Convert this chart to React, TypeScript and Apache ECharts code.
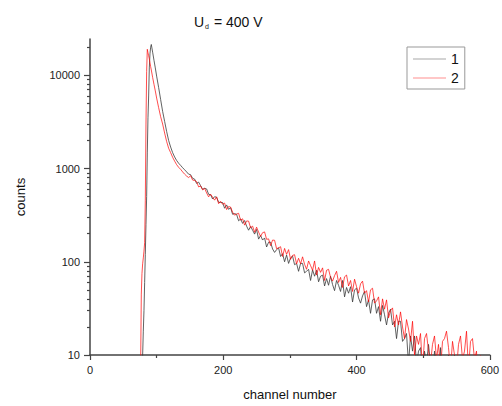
import React, { useEffect, useRef } from "react";
import * as echarts from "echarts";

const peakChannels = [74, 76, 77, 78, 79, 80, 81, 82, 83, 84, 85, 86, 87, 88, 89, 90, 91, 92, 94, 96, 98, 100, 103, 106, 109, 112, 115, 118, 121, 124, 127, 130, 133, 136, 139, 142, 145, 148];
const tailChannels = [
  151, 154, 157, 160, 163, 166, 169, 172, 175, 178,
  181, 184, 187, 190, 193, 196, 199, 202, 205, 208,
  211, 214, 217, 220, 223, 226, 229, 232, 235, 238,
  241, 244, 247, 250, 253, 256, 259, 262, 265, 268,
  271, 274, 277, 280, 283, 286, 289, 292, 295, 298,
  301, 304, 307, 310, 313, 316, 319, 322, 325, 328,
  331, 334, 337, 340, 343, 346, 349, 352, 355, 358,
  361, 364, 367, 370, 373, 376, 379, 382, 385, 388,
  391, 394, 397, 400, 403, 406, 409, 412, 415, 418,
  421, 424, 427, 430, 433, 436, 439, 442, 445, 448,
  451, 454, 457, 460, 463, 466, 469, 472, 475, 478,
  481, 484, 487, 490, 493, 496, 499, 502, 505, 508,
  511, 514, 517, 520, 523, 526, 529, 532, 535, 538,
  541, 544, 547, 550, 553, 556, 559, 562, 565, 568,
  571, 574, 577, 580, 583, 586, 589,
];

const series1Peak = [1, 1, 2, 5, 10, 18, 30, 60, 120, 250, 500, 1500, 3500, 6000, 12000, 17000, 20000, 21400, 17700, 14500, 12000, 9800, 7400, 5500, 4100, 3200, 2500, 2000, 1700, 1480, 1330, 1220, 1140, 1080, 1020, 970, 920, 870];
const series1Tail = [
  859, 785, 770, 692, 715, 654, 598, 613, 604, 529,
  523, 471, 499, 491, 434, 432, 432, 375, 407, 365,
  380, 323, 329, 322, 275, 288, 258, 277, 241, 218,
  239, 218, 198, 222, 175, 191, 171, 180, 144, 162,
  162, 137, 126, 135, 141, 114, 122, 100, 118, 96,
  110, 115, 93, 96, 79, 96, 96, 76, 79, 83,
  63, 82, 70, 81, 61, 70, 72, 55, 66, 56,
  70, 57, 49, 63, 56, 48, 63, 42, 53, 46,
  54, 37, 50, 52, 41, 36, 43, 48, 33, 39,
  28, 39, 40, 28, 33, 23, 34, 27, 21, 28,
  31, 21, 23, 15, 23, 23, 14, 15, 17, 8,
  16, 11, 16, 8, 11, 12, 6, 11, 8, 13,
  8, 5, 11, 8, 6, 12, 4, 9, 6, 10,
  3, 8, 10, 5, 4, 7,
];

const series2Peak = [1, 8, 45, 75, 95, 110, 130, 160, 450, 3000, 11000, 19000, 17500, 16200, 15000, 13600, 12400, 11400, 9500, 8000, 6800, 5700, 4500, 3600, 3000, 2400, 1950, 1650, 1480, 1320, 1200, 1100, 1030, 980, 920, 870, 830, 800];
const series2Tail = [
  837, 752, 744, 723, 635, 650, 590, 614, 547, 497,
  530, 493, 458, 497, 420, 445, 414, 426, 363, 391,
  386, 340, 316, 325, 331, 279, 289, 247, 274, 273,
  231, 241, 207, 235, 208, 187, 205, 209, 174, 176,
  149, 171, 170, 138, 141, 145, 114, 139, 120, 135,
  106, 117, 119, 95, 109, 95, 113, 94, 83, 102,
  91, 81, 102, 72, 87, 77, 86, 63, 81, 83,
  68, 62, 71, 79, 60, 68, 53, 69, 72, 55,
  63, 48, 65, 54, 46, 58, 62, 46, 49, 37,
  50, 52, 36, 38, 42, 27, 40, 31, 39, 25,
  30, 32, 20, 27, 21, 29, 20, 15, 24, 19,
  14, 23, 10, 16, 13, 17, 7, 15, 17, 11,
  8, 13, 16, 9, 13, 7, 14, 15, 18, 12,
  7, 14, 10, 7, 13, 16, 9, 11, 18, 7,
  14, 15, 9, 11, 4, 10, 4,
];

const seriesNames = ["1", "2"];
const yMajorTicks = [10, 100, 1000, 10000];
const yMinorTicks = [20, 30, 40, 50, 60, 70, 80, 90, 200, 300, 400, 500, 600, 700, 800, 900, 2000, 3000, 4000, 5000, 6000, 7000, 8000, 9000, 20000];

function pairs(xs: number[], ys: number[]) {
  const out: number[][] = [];
  for (let i = 0; i < ys.length && i < xs.length; i++) out.push([xs[i], ys[i]]);
  return out;
}

export default function App() {
  const ref = useRef<HTMLDivElement>(null);
  useEffect(() => {
    if (!ref.current) return;
    const chart = echarts.init(ref.current, undefined, { renderer: "svg" });
    const channels = peakChannels.concat(tailChannels);
    const s1 = pairs(channels, series1Peak.concat(series1Tail));
    const s2 = pairs(channels, series2Peak.concat(series2Tail));
    const font = "'Liberation Sans', Arial, sans-serif";
    const axisColor = "#444";
    chart.setOption({
      animation: false,
      backgroundColor: "#fff",
      textStyle: { fontFamily: font },
      title: {
        text: "U{sub|d} = 400 V",
        left: 189,
        top: 9,
        textStyle: {
          fontFamily: font,
          fontSize: 14,
          fontWeight: "normal",
          color: "#111",
          rich: {
            sub: { fontSize: 7, fontFamily: font, color: "#111", padding: [9, 1, 0, 1] },
          },
        },
      },
      legend: {
        orient: "vertical",
        left: 407,
        top: 47,
        padding: [5, 6, 4, 6],
        itemGap: 5,
        itemWidth: 33,
        itemHeight: 14,
        borderColor: "#999",
        borderWidth: 1,
        textStyle: { fontFamily: font, fontSize: 14, color: "#111" },
        data: [
          { name: seriesNames[0], icon: "path://M0,6.5 L33,6.5 L33,7.5 L0,7.5 Z", itemStyle: { color: "#a8a8a8" } },
          { name: seriesNames[1], icon: "path://M0,6.5 L33,6.5 L33,7.5 L0,7.5 Z", itemStyle: { color: "#ff9090" } },
        ],
      },
      grid: { left: 90, right: 11.5, top: 39, bottom: 50.3, containLabel: false },
      xAxis: {
        type: "value",
        min: 0,
        max: 600,
        interval: 200,
        name: "channel number",
        nameLocation: "middle",
        nameGap: 33,
        nameTextStyle: { fontFamily: font, fontSize: 13, color: "#111" },
        axisLine: { show: true, onZero: false, lineStyle: { color: axisColor, width: 1.5 } },
        axisTick: { show: true, length: 5, lineStyle: { color: axisColor, width: 1.2 } },
        minorTick: { show: true, splitNumber: 2, length: 3, lineStyle: { color: axisColor, width: 1.2 } },
        axisLabel: { fontFamily: font, fontSize: 11, color: "#222", margin: 9, formatter: (v: number) => String(v) },
        splitLine: { show: false },
      },
      yAxis: [
        {
          type: "log",
          logBase: 10,
          min: 10,
          max: 24500,
          position: "left",
          name: "counts",
          nameLocation: "middle",
          nameGap: 63,
          nameTextStyle: { fontFamily: font, fontSize: 13, color: "#111" },
          axisLine: { show: true, lineStyle: { color: axisColor, width: 1.5 } },
          axisTick: { show: true, length: 6, customValues: yMajorTicks, lineStyle: { color: axisColor, width: 1.2 } },
          axisLabel: { fontFamily: font, fontSize: 11, color: "#222", margin: 10, customValues: yMajorTicks, formatter: (v: number) => String(Math.round(v)) },
          splitLine: { show: false },
        },
        {
          type: "log",
          logBase: 10,
          min: 10,
          max: 24500,
          position: "left",
          offset: 0,
          axisLine: { show: false },
          axisTick: { show: true, length: 3, customValues: yMinorTicks, lineStyle: { color: axisColor, width: 1.2 } },
          axisLabel: { show: false },
          splitLine: { show: false },
        },
      ],
      series: [
        {
          name: seriesNames[0],
          type: "line",
          yAxisIndex: 0,
          data: s1,
          symbol: "none",
          showSymbol: false,
          clip: true,
          lineStyle: { color: "#3a3a3a", width: 0.8 },
          itemStyle: { color: "#3a3a3a" },
        },
        {
          name: seriesNames[1],
          type: "line",
          yAxisIndex: 0,
          data: s2,
          symbol: "none",
          showSymbol: false,
          clip: true,
          lineStyle: { color: "#ff0000", width: 0.7 },
          itemStyle: { color: "#ff0000" },
        },
      ],
    });
    return () => chart.dispose();
  }, []);
  return (
    <div
      ref={ref}
      style={{ position: "fixed", left: 0, top: 0, width: 502, height: 406, background: "#fff" }}
    />
  );
}
